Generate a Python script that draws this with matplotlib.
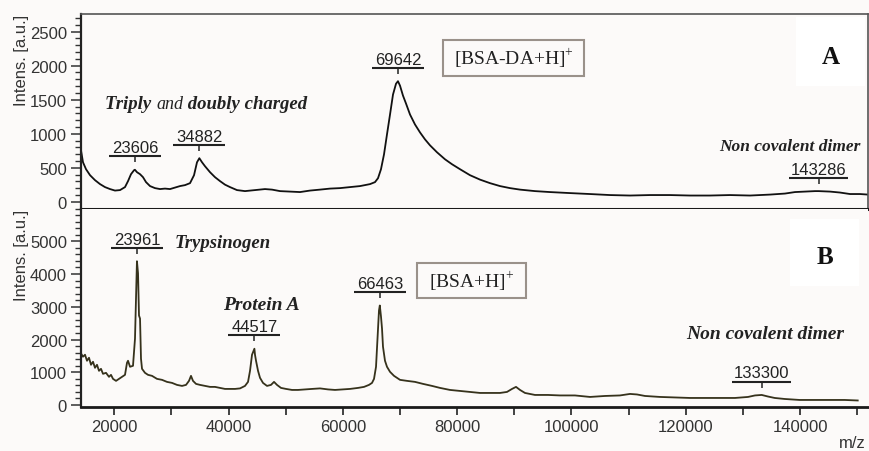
import matplotlib
matplotlib.use("Agg")
import matplotlib.pyplot as plt
import numpy as np
from matplotlib import transforms
from matplotlib.ticker import MultipleLocator, AutoMinorLocator
from matplotlib.patches import Rectangle
from matplotlib.markers import TICKDOWN

plt.rcParams["font.family"] = ["Liberation Sans", "DejaVu Sans"]
plt.rcParams["mathtext.fontset"] = "custom"
plt.rcParams["mathtext.rm"] = "Liberation Serif"

# ---------------- data ----------------
mz_A = [14200, 14520, 15050, 15750, 16620, 17500, 18370, 19250, 20120, 21000,
        21870, 22400, 22920, 23450, 23606, 23970, 24500, 25020, 25550, 26250,
        27120, 28000, 28870, 29750, 30620, 31500, 32370, 33250, 33950, 34470,
        34882, 35350, 35870, 36750, 37620, 38500, 39370, 40250, 41470, 42870,
        44620, 46370, 47600, 49000, 50750, 52500, 54250, 56000, 57750, 59500,
        61250, 63000, 64750, 65620, 66150, 66670, 67200, 67720, 68250, 68770,
        69300, 69642, 70000, 70520, 71050, 71750, 72620, 73500, 74370, 75250,
        76470, 77870, 79100, 80500, 82250, 84000, 85750, 87500, 89250, 91000,
        93620, 96250, 99750, 103250, 106750, 110250, 113750, 117250, 120750, 124250,
        127750, 131250, 134750, 137370, 139120, 140870, 142620, 143286, 145250, 147000,
        148750, 150500, 151900]
int_A = [740, 580, 478, 390, 317, 259, 215, 186, 164, 171,
         215, 303, 405, 463, 470, 434, 405, 361, 288, 230,
         200, 186, 193, 186, 208, 230, 244, 273, 390, 580,
         640, 580, 522, 434, 361, 303, 251, 215, 171, 156,
         171, 186, 178, 156, 149, 142, 164, 178, 193, 200,
         215, 230, 259, 288, 346, 478, 697, 990, 1282, 1575,
         1735, 1772, 1706, 1560, 1443, 1282, 1136, 1019, 917, 829,
         727, 624, 551, 478, 390, 325, 273, 230, 200, 178,
         156, 142, 127, 113, 98, 91, 98, 98, 91, 91,
         98, 91, 105, 120, 142, 149, 156, 156, 149, 135,
         113, 113, 105]

mz_B = [14200, 14520, 14870, 15220, 15570, 15920, 16270, 16620, 16970, 17320,
        17670, 18020, 18550, 19070, 19420, 19770, 20300, 20820, 21350, 21870,
        22220, 22400, 22750, 23270, 23620, 23800, 23961, 24150, 24320, 24500,
        24670, 24850, 25370, 25900, 26600, 27470, 28350, 29220, 30100, 30970,
        31850, 32550, 33070, 33420, 33770, 34300, 35000, 35870, 36750, 37620,
        38500, 39370, 40250, 41120, 42000, 42870, 43400, 43750, 44100, 44517,
        44620, 44800, 45150, 45500, 46020, 46720, 47420, 47950, 48470, 49170,
        50050, 51100, 52150, 53370, 54600, 56000, 57400, 58620, 59850, 61250,
        62650, 63700, 64570, 65100, 65450, 65800, 66060, 66320, 66463, 66670,
        66850, 67020, 67370, 67720, 68250, 68950, 70000, 71220, 72620, 74020,
        75600, 77000, 78750, 80500, 82250, 84000, 85750, 87500, 88720, 89600,
        90300, 91000, 91870, 93620, 95900, 98000, 100620, 103250, 105870, 108500,
        110250, 111470, 112870, 115500, 118120, 120750, 123370, 126000, 128620, 130900,
        132120, 133300, 134350, 135570, 137320, 139950, 142570, 145200, 147820, 150100]
int_B = [1566, 1474, 1535, 1351, 1443, 1228, 1320, 1136, 1228, 1044,
         1105, 952, 982, 860, 921, 798, 737, 798, 860, 921,
         1289, 1351, 1167, 1197, 2026, 3254, 4390, 4022, 2732, 2640,
         1412, 1105, 982, 921, 890, 798, 768, 706, 675, 614,
         583, 614, 737, 890, 737, 645, 614, 583, 553, 553,
         522, 491, 491, 491, 507, 583, 706, 1044, 1535, 1719,
         1535, 1351, 1044, 829, 675, 583, 614, 706, 614, 522,
         491, 460, 460, 476, 491, 507, 476, 460, 476, 491,
         522, 553, 614, 675, 798, 1167, 2026, 2886, 3039, 2702,
         2333, 1781, 1351, 1167, 1013, 890, 768, 737, 706, 645,
         583, 522, 460, 430, 399, 368, 368, 368, 399, 491,
         553, 460, 368, 307, 307, 292, 292, 246, 276, 292,
         338, 322, 276, 246, 230, 215, 215, 215, 215, 246,
         292, 307, 261, 215, 184, 154, 154, 154, 154, 138]

peaks_A = [23606, 34882, 69642, 143286]
peaks_B = [23961, 44517, 66463, 133300]

x_limits = (14170, 151900)
x_ticks_major = 20000
x_ticks_minor = 10000

# ---------------- styling ----------------
BG = "#fcfaf9"
TXT = "#222222"
W, H = 869, 452

fig = plt.figure(figsize=(W / 100, H / 100), dpi=100, facecolor=BG)
axA = fig.add_axes([81 / W, 1 - 210 / H, 787 / W, 195 / H])
axB = fig.add_axes([81 / W, 1 - 408 / H, 787 / W, 198 / H])

axA.plot(mz_A, int_A, color="#111111", lw=1.3, solid_joinstyle="round")
axB.plot(mz_B, int_B, color="#36321c", lw=1.3, solid_joinstyle="round")

axA.set_xlim(*x_limits)
axB.set_xlim(*x_limits)
axA.set_ylim(-107, 2760)
axB.set_ylim(-61, 5985)

for ax in (axA, axB):
    ax.set_facecolor(BG)
    ax.tick_params(axis="y", which="major", direction="out", length=7, width=1.1,
                   pad=3, labelsize=12, colors="#333333")
    ax.tick_params(axis="y", which="minor", direction="out", length=4.2, width=1.0,
                   colors="#333333")
    ax.set_ylabel("Intens. [a.u.]", fontsize=12, color="#333333", loc="top")
    ax.yaxis.set_label_coords(-0.066, 1.0)
    ax.spines["left"].set_linewidth(1.6)
    ax.spines["left"].set_color("#222222")

axA.yaxis.set_major_locator(MultipleLocator(500))
axA.yaxis.set_minor_locator(AutoMinorLocator(5))
axB.yaxis.set_major_locator(MultipleLocator(1000))
axB.yaxis.set_minor_locator(AutoMinorLocator(5))

axA.tick_params(axis="x", which="both", bottom=False, labelbottom=False)
axA.spines["top"].set_linewidth(1.2)
axA.spines["top"].set_color("#555555")
axA.spines["right"].set_linewidth(1.2)
axA.spines["right"].set_color("#555555")
axA.spines["bottom"].set_linewidth(2.2)
axA.spines["bottom"].set_color("#1a1a1a")

axB.spines["top"].set_visible(False)
axB.spines["right"].set_visible(False)
axB.spines["bottom"].set_linewidth(2.0)
axB.spines["bottom"].set_color("#1a1a1a")
axB.xaxis.set_major_locator(MultipleLocator(x_ticks_major))
axB.xaxis.set_minor_locator(MultipleLocator(x_ticks_minor))
axB.tick_params(axis="x", which="both", direction="out", length=5.5, width=1.3,
                colors="#333333")
axB.tick_params(axis="x", which="major", labelsize=12, pad=3)


def peak_label(ax, mz, mzs, ints, label):
    inten = float(np.interp(mz, mzs, ints))
    half = 650 * len(label) + 1300
    bar_tr = transforms.offset_copy(ax.transData, fig=fig, y=9.6, units="points")
    ax.plot([mz - half, mz + half], [inten, inten], transform=bar_tr,
            color=TXT, lw=1.5, solid_capstyle="butt", clip_on=False)
    ax.plot([mz], [inten], transform=bar_tr, marker=TICKDOWN, ms=4,
            mew=1.1, color=TXT, clip_on=False)
    ax.annotate(label, xy=(mz, inten), xytext=(0, 12.6), textcoords="offset points",
                ha="center", va="baseline", fontsize=12, color=TXT)


for p in peaks_A:
    peak_label(axA, p, mz_A, int_A, str(p))
for p in peaks_B:
    peak_label(axB, p, mz_B, int_B, str(p))

serif = ["Liberation Serif", "DejaVu Serif"]

# Panel A annotations
t1 = axA.text(0.0305, 0.518, "Triply ", transform=axA.transAxes, family=serif,
              style="italic", weight="bold", fontsize=13.5, color=TXT, va="baseline")
t2 = axA.annotate("and", xy=(1, 0), xycoords=t1, xytext=(0, 0), textcoords="offset points",
                  family=serif, style="italic", fontsize=13, color=TXT, va="bottom")
axA.annotate(" doubly charged", xy=(1, 0), xycoords=t2, xytext=(0, 0),
             textcoords="offset points", family=serif, style="italic", weight="bold",
             fontsize=13.5, color=TXT, va="bottom")
axA.text(0.9907, 0.304, "Non covalent dimer", transform=axA.transAxes, family=serif,
         style="italic", weight="bold", fontsize=12.5, color=TXT, ha="right", va="baseline")
axA.add_patch(Rectangle((0.4604, 0.6836), 0.1792, 0.1831, transform=axA.transAxes,
                        facecolor=BG, edgecolor="#9a918a", lw=1.5, zorder=3))
axA.text(0.5499, 0.7751, r"[BSA-DA+H]$^{+}$", transform=axA.transAxes, family=serif,
         fontsize=14, color=TXT, ha="center", va="center", zorder=4)
axA.add_patch(Rectangle((0.9085, 0.6323), 0.0877, 0.3523, transform=axA.transAxes,
                        facecolor="white", edgecolor="none", zorder=3))
axA.text(0.9524, 0.7805, "A", transform=axA.transAxes, family=serif, weight="bold",
         fontsize=18, color="#111111", ha="center", va="center", zorder=4)

# Panel B annotations
axB.text(0.1194, 0.8066, "Trypsinogen", transform=axB.transAxes, family=serif,
         style="italic", weight="bold", fontsize=13.5, color=TXT, va="baseline")
axB.text(0.180, 0.495, "Protein A", transform=axB.transAxes, family=serif,
         style="italic", weight="bold", fontsize=14, color=TXT, va="baseline")
axB.text(0.7687, 0.347, "Non covalent dimer", transform=axB.transAxes, family=serif,
         style="italic", weight="bold", fontsize=14, color=TXT, va="baseline")
axB.add_patch(Rectangle((0.4266, 0.549), 0.1385, 0.1768, transform=axB.transAxes,
                        facecolor=BG, edgecolor="#9a918a", lw=1.5, zorder=3))
axB.text(0.4958, 0.6374, r"[BSA+H]$^{+}$", transform=axB.transAxes, family=serif,
         fontsize=14, color=TXT, ha="center", va="center", zorder=4)
axB.add_patch(Rectangle((0.9009, 0.6096), 0.0881, 0.3399, transform=axB.transAxes,
                        facecolor="white", edgecolor="none", zorder=3))
axB.text(0.9448, 0.7596, "B", transform=axB.transAxes, family=serif, weight="bold",
         fontsize=18, color="#111111", ha="center", va="center", zorder=4)

fig.text(866 / W, 1 - 436 / H, "m/z", fontsize=12, color="#333333", ha="right", va="top")

fig.savefig("out.png", dpi=100, facecolor=BG)
